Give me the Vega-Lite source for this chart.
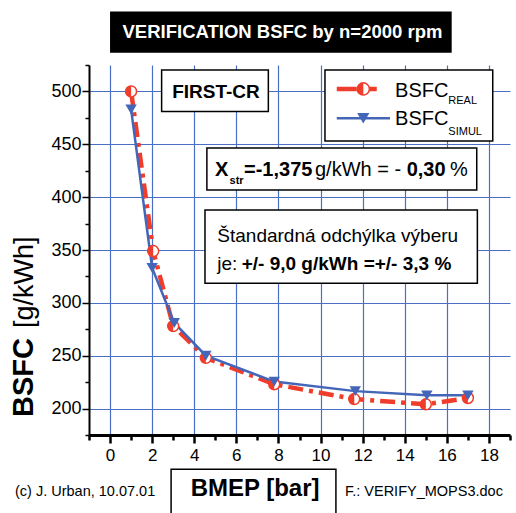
{
  "$schema": "https://vega.github.io/schema/vega-lite/v6.json",
  "width": 421,
  "height": 370,
  "autosize": "none",
  "padding": {"left": 89, "top": 65, "right": 6, "bottom": 78},
  "background": "white",
  "config": {"view": {"stroke": null}, "font": "Liberation Sans"},
  "resolve": {"axis": {"x": "independent", "y": "independent"}},
  "datasets": {
    "real": [
      {"x": 1, "y": 500}, {"x": 2.05, "y": 349}, {"x": 3, "y": 278}, {"x": 4.55, "y": 248},
      {"x": 7.8, "y": 223}, {"x": 11.6, "y": 209}, {"x": 15, "y": 204}, {"x": 17, "y": 210}
    ],
    "simul": [
      {"x": 1, "y": 483}, {"x": 2, "y": 333}, {"x": 3.05, "y": 281}, {"x": 4.55, "y": 250},
      {"x": 7.8, "y": 225.5}, {"x": 11.65, "y": 216.5}, {"x": 15.05, "y": 212.5}, {"x": 17, "y": 212.5}
    ],
    "boxes": [
      {"x": 2.45, "x2": 7.52, "y": 520.3, "y2": 480.9},
      {"x": 10.21, "x2": 18.18, "y": 520.3, "y2": 453.1},
      {"x": 4.6, "x2": 17.42, "y": 446.5, "y2": 406.8},
      {"x": 4.51, "x2": 17.45, "y": 387.9, "y2": 318.5},
      {"x": 2.9, "x2": 10.73, "y": 142.6, "y2": 90}
    ],
    "titlebox": [{"x": 0.0, "x2": 16.23, "y": 575.5, "y2": 536.7}],
    "legred": [{"x": 10.77, "y": 502.3}, {"x": 13.3, "y": 502.3}],
    "legblue": [{"x": 10.77, "y": 474.6}, {"x": 13.3, "y": 474.6}],
    "legredpt": [{"x": 12.03, "y": 502.3}],
    "legbluept": [{"x": 12.03, "y": 474.6}]
  },
  "layer": [
    {
      "data": {"name": "real"},
      "mark": {"type": "line", "color": "#f03c2a", "strokeWidth": 4.5, "strokeDash": [15, 6, 4, 6]},
      "encoding": {
        "x": {"field": "x", "type": "quantitative",
          "scale": {"domain": [-1, 19], "nice": false, "zero": false},
          "axis": {
            "orient": "bottom",
            "values": [0, 2, 4, 6, 8, 10, 12, 14, 16, 18],
            "title": null, "grid": true, "gridColor": "#4a6fc4", "gridWidth": 1.2,
            "tickSize": 8, "tickWidth": 2.5, "tickColor": "black", "domainColor": "black", "domainWidth": 3,
            "labelFont": "Liberation Sans", "labelFontSize": 17, "labelColor": "black",
            "labelPadding": 4, "labelFlush": false, "labelOverlap": false
          }
        },
        "y": {"field": "y", "type": "quantitative",
          "scale": {"domain": [175, 525], "nice": false, "zero": false},
          "axis": {
            "orient": "left",
            "values": [200, 250, 300, 350, 400, 450, 500],
            "title": null, "grid": true, "gridColor": "#4a6fc4", "gridWidth": 1.2,
            "tickSize": 7, "tickWidth": 1.5, "tickColor": "black", "domainColor": "black", "domainWidth": 2,
            "labelFont": "Liberation Sans", "labelFontSize": 18, "labelColor": "black",
            "labelPadding": 1, "labelFlush": false, "labelOverlap": false
          }
        }
      }
    },
    {
      "data": {"name": "simul"},
      "mark": {"type": "line", "color": "#4466b8", "strokeWidth": 2.5},
      "encoding": {
        "x": {"field": "x", "type": "quantitative",
          "axis": {"orient": "bottom", "values": [-1, 1, 3, 5, 7, 9, 11, 13, 15, 17, 19], "title": null, "grid": false, "labels": false, "domain": false, "tickSize": 5, "tickWidth": 2.5, "tickColor": "black"}},
        "y": {"field": "y", "type": "quantitative",
          "axis": {"orient": "left", "values": [175, 225, 275, 325, 375, 425, 475, 525], "title": null, "grid": false, "labels": false, "domain": false, "tickSize": 4, "tickWidth": 1.5, "tickColor": "black"}}
      }
    },
    {
      "data": {"name": "real"},
      "mark": {"type": "point", "shape": "circle", "filled": true, "fill": "white", "stroke": "#f03c2a", "strokeWidth": 1.5, "size": 120, "opacity": 1},
      "encoding": {
        "x": {"field": "x", "type": "quantitative", "axis": null},
        "y": {"field": "y", "type": "quantitative", "axis": null}
      }
    },
    {
      "data": {"name": "real"},
      "mark": {"type": "point", "shape": "M0,-1L-0.383,-0.924L-0.707,-0.707L-0.924,-0.383L-1,0L-0.924,0.383L-0.707,0.707L-0.383,0.924L0,1Z", "filled": true, "fill": "#f03c2a", "size": 120, "opacity": 1, "strokeWidth": 0},
      "encoding": {
        "x": {"field": "x", "type": "quantitative", "axis": null},
        "y": {"field": "y", "type": "quantitative", "axis": null}
      }
    },
    {
      "data": {"name": "simul"},
      "mark": {"type": "point", "shape": "triangle-down", "filled": true, "fill": "#4466b8", "size": 130, "opacity": 1, "strokeWidth": 0},
      "encoding": {
        "x": {"field": "x", "type": "quantitative", "axis": null},
        "y": {"field": "y", "type": "quantitative", "axis": null}
      }
    },
    {
      "data": {"name": "boxes"},
      "mark": {"type": "rect", "fill": "white", "stroke": "black", "strokeWidth": 1.5},
      "encoding": {
        "x": {"field": "x", "type": "quantitative", "axis": null},
        "x2": {"field": "x2"},
        "y": {"field": "y", "type": "quantitative", "axis": null},
        "y2": {"field": "y2"}
      }
    },
    {
      "data": {"name": "titlebox"},
      "mark": {"type": "rect", "fill": "black"},
      "encoding": {
        "x": {"field": "x", "type": "quantitative", "axis": null},
        "x2": {"field": "x2"},
        "y": {"field": "y", "type": "quantitative", "axis": null},
        "y2": {"field": "y2"}
      }
    },
    {
      "data": {"name": "legred"},
      "mark": {"type": "line", "color": "#f03c2a", "strokeWidth": 4.5, "strokeDash": [20, 9, 11, 20]},
      "encoding": {
        "x": {"field": "x", "type": "quantitative", "axis": null},
        "y": {"field": "y", "type": "quantitative", "axis": null}
      }
    },
    {
      "data": {"name": "legblue"},
      "mark": {"type": "line", "color": "#4466b8", "strokeWidth": 2.5},
      "encoding": {
        "x": {"field": "x", "type": "quantitative", "axis": null},
        "y": {"field": "y", "type": "quantitative", "axis": null}
      }
    },
    {
      "data": {"name": "legredpt"},
      "mark": {"type": "point", "shape": "circle", "filled": true, "fill": "white", "stroke": "#f03c2a", "strokeWidth": 1.5, "size": 150, "opacity": 1},
      "encoding": {
        "x": {"field": "x", "type": "quantitative", "axis": null},
        "y": {"field": "y", "type": "quantitative", "axis": null}
      }
    },
    {
      "data": {"name": "legredpt"},
      "mark": {"type": "point", "shape": "M0,-1L-0.383,-0.924L-0.707,-0.707L-0.924,-0.383L-1,0L-0.924,0.383L-0.707,0.707L-0.383,0.924L0,1Z", "filled": true, "fill": "#f03c2a", "size": 150, "opacity": 1, "strokeWidth": 0},
      "encoding": {
        "x": {"field": "x", "type": "quantitative", "axis": null},
        "y": {"field": "y", "type": "quantitative", "axis": null}
      }
    },
    {
      "data": {"name": "legbluept"},
      "mark": {"type": "point", "shape": "triangle-down", "filled": true, "fill": "#4466b8", "size": 150, "opacity": 1, "strokeWidth": 0},
      "encoding": {
        "x": {"field": "x", "type": "quantitative", "axis": null},
        "y": {"field": "y", "type": "quantitative", "axis": null}
      }
    },
    {
      "data": {"values": [{"x": 8.19, "y": 550.3, "text": "VERIFICATION BSFC by n=2000 rpm"}]},
      "mark": {"type": "text", "font": "Liberation Sans", "fontSize": 18.5, "fontWeight": "bold", "color": "white", "align": "center", "baseline": "alphabetic"},
      "encoding": {
        "x": {"field": "x", "type": "quantitative", "axis": null},
        "y": {"field": "y", "type": "quantitative", "axis": null},
        "text": {"field": "text"}
      }
    },
    {
      "data": {"values": [{"x": 5.03, "y": 493.5, "text": "FIRST-CR"}]},
      "mark": {"type": "text", "font": "Liberation Sans", "fontSize": 19, "fontWeight": "bold", "color": "black", "align": "center", "baseline": "alphabetic"},
      "encoding": {
        "x": {"field": "x", "type": "quantitative", "axis": null},
        "y": {"field": "y", "type": "quantitative", "axis": null},
        "text": {"field": "text"}
      }
    },
    {
      "data": {"values": [
        {"x": 13.54, "y": 495.1, "text": "BSFC"},
        {"x": 13.54, "y": 468.5, "text": "BSFC"},
        {"x": 9.736, "y": 420.0, "text": "g/kWh = -"},
        {"x": 16.15, "y": 420.0, "text": "%"}
      ]},
      "mark": {"type": "text", "font": "Liberation Sans", "fontSize": 20, "color": "black", "align": "left", "baseline": "alphabetic"},
      "encoding": {
        "x": {"field": "x", "type": "quantitative", "axis": null},
        "y": {"field": "y", "type": "quantitative", "axis": null},
        "text": {"field": "text"}
      }
    },
    {
      "data": {"values": [
        {"x": 16.07, "y": 487.9, "text": "REAL"},
        {"x": 16.07, "y": 459.0, "text": "SIMUL"}
      ]},
      "mark": {"type": "text", "font": "Liberation Sans", "fontSize": 11, "color": "black", "align": "left", "baseline": "alphabetic"},
      "encoding": {
        "x": {"field": "x", "type": "quantitative", "axis": null},
        "y": {"field": "y", "type": "quantitative", "axis": null},
        "text": {"field": "text"}
      }
    },
    {
      "data": {"values": [
        {"x": 4.986, "y": 420.0, "text": "X"},
        {"x": 6.363, "y": 420.0, "text": "=-1,375"},
        {"x": 14.09, "y": 420.0, "text": "0,30"}
      ]},
      "mark": {"type": "text", "font": "Liberation Sans", "fontSize": 20, "fontWeight": "bold", "color": "black", "align": "left", "baseline": "alphabetic"},
      "encoding": {
        "x": {"field": "x", "type": "quantitative", "axis": null},
        "y": {"field": "y", "type": "quantitative", "axis": null},
        "text": {"field": "text"}
      }
    },
    {
      "data": {"values": [{"x": 5.675, "y": 412.5, "text": "str"}]},
      "mark": {"type": "text", "font": "Liberation Sans", "fontSize": 11, "fontWeight": "bold", "color": "black", "align": "left", "baseline": "alphabetic"},
      "encoding": {
        "x": {"field": "x", "type": "quantitative", "axis": null},
        "y": {"field": "y", "type": "quantitative", "axis": null},
        "text": {"field": "text"}
      }
    },
    {
      "data": {"values": [
        {"x": 5.095, "y": 357.9, "text": "Štandardná odchýlka výberu"},
        {"x": 5.095, "y": 331.1, "text": "je:"}
      ]},
      "mark": {"type": "text", "font": "Liberation Sans", "fontSize": 19, "color": "black", "align": "left", "baseline": "alphabetic"},
      "encoding": {
        "x": {"field": "x", "type": "quantitative", "axis": null},
        "y": {"field": "y", "type": "quantitative", "axis": null},
        "text": {"field": "text"}
      }
    },
    {
      "data": {"values": [{"x": 6.254, "y": 331.1, "text": "+/- 9,0 g/kWh =+/- 3,3 %"}]},
      "mark": {"type": "text", "font": "Liberation Sans", "fontSize": 19, "fontWeight": "bold", "color": "black", "align": "left", "baseline": "alphabetic"},
      "encoding": {
        "x": {"field": "x", "type": "quantitative", "axis": null},
        "y": {"field": "y", "type": "quantitative", "axis": null},
        "text": {"field": "text"}
      }
    },
    {
      "data": {"values": [{"x": -3.637, "y": 192.05, "text": "BSFC"}]},
      "mark": {"type": "text", "font": "Liberation Sans", "fontSize": 29, "fontWeight": "bold", "color": "black", "align": "left", "baseline": "alphabetic", "angle": 270},
      "encoding": {
        "x": {"field": "x", "type": "quantitative", "axis": null},
        "y": {"field": "y", "type": "quantitative", "axis": null},
        "text": {"field": "text"}
      }
    },
    {
      "data": {"values": [{"x": -3.637, "y": 276.2, "text": "[g/kWh]"}]},
      "mark": {"type": "text", "font": "Liberation Sans", "fontSize": 27, "color": "black", "align": "left", "baseline": "alphabetic", "angle": 270},
      "encoding": {
        "x": {"field": "x", "type": "quantitative", "axis": null},
        "y": {"field": "y", "type": "quantitative", "axis": null},
        "text": {"field": "text"}
      }
    },
    {
      "data": {"values": [{"x": 6.89, "y": 117.3, "text": "BMEP [bar]"}]},
      "mark": {"type": "text", "font": "Liberation Sans", "fontSize": 24, "fontWeight": "bold", "color": "black", "align": "center", "baseline": "alphabetic"},
      "encoding": {
        "x": {"field": "x", "type": "quantitative", "axis": null},
        "y": {"field": "y", "type": "quantitative", "axis": null},
        "text": {"field": "text"}
      }
    },
    {
      "data": {"values": [
        {"x": -4.515, "y": 117.3, "text": "(c) J. Urban, 10.07.01"},
        {"x": 11.16, "y": 117.3, "text": "F.: VERIFY_MOPS3.doc"}
      ]},
      "mark": {"type": "text", "font": "Liberation Sans", "fontSize": 14.5, "color": "black", "align": "left", "baseline": "alphabetic"},
      "encoding": {
        "x": {"field": "x", "type": "quantitative", "axis": null},
        "y": {"field": "y", "type": "quantitative", "axis": null},
        "text": {"field": "text"}
      }
    }
  ]
}
